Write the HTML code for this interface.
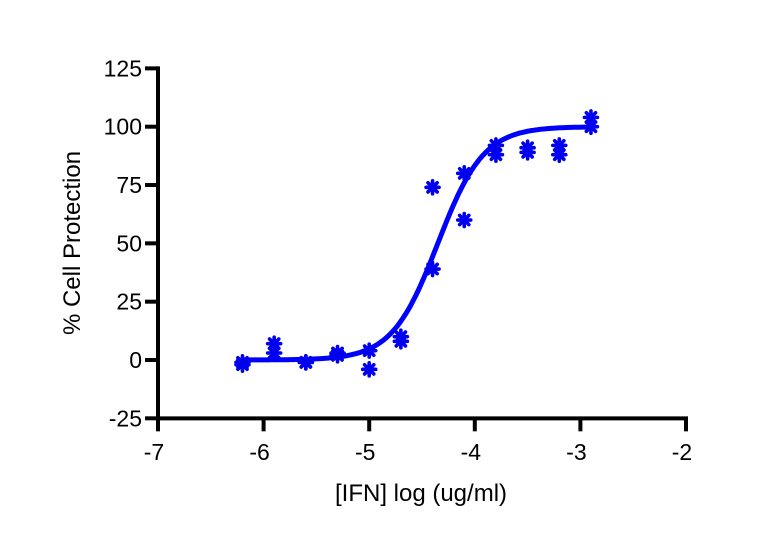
<!DOCTYPE html>
<html><head><meta charset="utf-8"><style>
body{margin:0;background:#fff;}
svg text{font-family:"Liberation Sans",Arial,sans-serif;fill:#000;}
</style></head><body>
<svg width="762" height="550" viewBox="0 0 762 550">
<g id="axes"></g><g id="curve"></g><g id="points"></g>
</svg>
<script>
const xTicks=[-7,-6,-5,-4,-3,-2];
const yTicks=[-25,0,25,50,75,100,125];
const doses=[-6.2,-5.9,-5.6,-5.3,-5.0,-4.7,-4.4,-4.1,-3.8,-3.5,-3.2,-2.9];
const rep1=[-2,7,-1,3,4,10,74,80,92,91,92,104];
const rep2=[-1,3,-1,2,-4,8,39,60,88,89,88,100];
const fitBottom=[0];const fitTop=[100];const fitLogEC50=[-4.35];const fitHill=[2.0];
const NS='http://www.w3.org/2000/svg';
const X=v=>158+(v+7)*105.6;
const Y=v=>360-v*2.333;
function mk(tag,attrs,parent){const e=document.createElementNS(NS,tag);for(const k in attrs)e.setAttribute(k,attrs[k]);parent.appendChild(e);return e;}
const ax=document.getElementById('axes');
let l=mk('line',{x1:158,y1:Y(125)-2,x2:158,y2:Y(-25)+2,stroke:'#000','stroke-width':4},ax);


l=mk('line',{x1:156,y1:Y(-25),x2:X(-2)+2,y2:Y(-25),stroke:'#000','stroke-width':4},ax);


yTicks.forEach(t=>{
 const tk=mk('line',{x1:145,y1:Y(t),x2:158,y2:Y(t),stroke:'#000','stroke-width':4},ax);
 
 
 const tx=mk('text',{x:142,y:Y(t)+8,'text-anchor':'end','font-size':23},ax);tx.textContent=t;
 
 
});
xTicks.forEach(t=>{
 const tk=mk('line',{x1:X(t),y1:Y(-25),x2:X(t),y2:Y(-25)+13,stroke:'#000','stroke-width':4},ax);
 
 
 const tx=mk('text',{x:X(t)-4,y:460,'text-anchor':'middle','font-size':23},ax);tx.textContent=t;
 
 
});
let tt=mk('text',{x:421,y:501,'text-anchor':'middle','font-size':24},ax);tt.textContent='[IFN] log (ug/ml)';


tt=mk('text',{x:0,y:0,'text-anchor':'middle','font-size':24,transform:'translate(80,243) rotate(-90)'},ax);tt.textContent='% Cell Protection';


const f=x=>fitBottom[0]+(fitTop[0]-fitBottom[0])/(1+Math.pow(10,(fitLogEC50[0]-x)*fitHill[0]));
let d='';for(let i=0;i<=200;i++){const x=doses[0]+(doses[doses.length-1]-doses[0])*i/200;d+=(i?'L':'M')+X(x).toFixed(1)+','+Y(f(x)).toFixed(1);}
const cp=mk('path',{d:d,fill:'none',stroke:'#0000ff','stroke-width':5},document.getElementById('curve'));


const pg=document.getElementById('points');
function star(x,y){const g=mk('g',{stroke:'#0000ee','stroke-width':3.6,'stroke-linecap':'round'},pg);
 
 
 for(let a=0;a<180;a+=45){const r=a*Math.PI/180,dx=6.5*Math.cos(r),dy=6.5*Math.sin(r);mk('line',{x1:x-dx,y1:y-dy,x2:x+dx,y2:y+dy},g);}
 mk('circle',{cx:x,cy:y,r:3,fill:'#0000ee',stroke:'none'},g);}
doses.forEach((dv,i)=>{star(X(dv),Y(rep1[i]));star(X(dv),Y(rep2[i]));});
</script>
</body></html>
